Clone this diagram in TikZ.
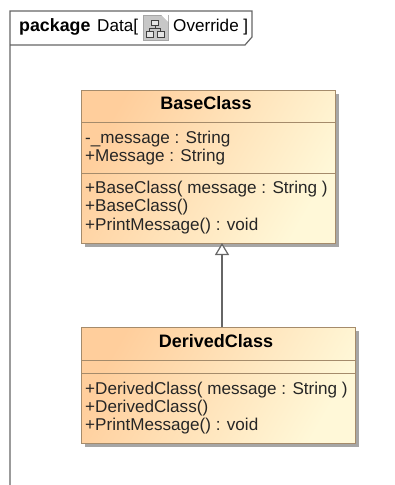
\documentclass[tikz,border=0pt]{standalone}
\usepackage{fontspec}
\setmainfont{Liberation Sans}
\usetikzlibrary{arrows.meta}
\definecolor{boxline}{HTML}{A58B6B}
\definecolor{boxleft}{HTML}{FFCE9C}
\definecolor{boxright}{HTML}{FFF8D8}
\definecolor{frameline}{HTML}{666666}
\tikzset{
  classbox/.style={draw=boxline, line width=1pt, left color=boxleft, right color=boxright, shading angle=60, minimum height=10pt},
  classshadow/.style={fill=black!35, draw=none},
  divider/.style={draw=boxline, line width=1pt},
  member/.style={anchor=north west, inner sep=0pt, font=\fontsize{17.1}{18.4}\selectfont, align=left, text=black!85},
  title/.style={inner sep=0pt, font=\fontsize{18}{20}\selectfont\bfseries},
  framelabel/.style={anchor=base west, inner sep=0pt, font=\fontsize{17.1}{18}\selectfont},
  iconbox/.style={draw=black!75, fill=black!10, minimum width=7pt, minimum height=5.5pt, inner sep=0pt},
}
\begin{document}
\begin{tikzpicture}[x=1pt, y=-1pt]
      \useasboundingbox (0,0) rectangle (395,485);
      % frame
      \draw[frameline, line width=1.2pt] (10,485) -- (10,11) -- (252,11) -- (252,37) -- (245,45) -- (10,45);
      \node[framelabel, font=\fontsize{17.8}{18}\selectfont] (pkgkey) at (19,31){\textbf{package}};
      \node[framelabel] (pkgname) at (97,31){Data[};
      \node[draw=black!35, fill=black!22, minimum width=25pt, minimum height=25pt, inner sep=0pt] (pkgicon) at (155.5,27.5){};
      \fill[white] (pkgicon.north east) -- ++(-7,0) -- ++(7,7) -- cycle;
      \node[framelabel] (pkgdiag) at (173,31){Override ]};
      % icon inside the diagram symbol
      \node[iconbox] (iconroot) at (155,22.5){};
      \node[iconbox] (iconleft) at (149.5,34){};
      \node[iconbox] (iconright) at (160.5,34){};
      \draw[black!75](iconroot) -- (155,28.5) -| (iconleft);
      \draw[black!75](iconroot) -- (155,28.5) -| (iconright);

      % BaseClass
      \fill[classshadow] (85,94) rectangle (338.5,246.5);
      \node[classbox, minimum width=254pt, minimum height=153pt, inner sep=0pt] (baseclass) at (208,166.5){};
      \draw[divider] (81,122) -- (335,122);
      \draw[divider] (81,173) -- (335,173);
      \node[title] (basetitle) at (206,103){BaseClass};
      \node[member] (baseattr) at (85,130.5){-\_message : String\\+Message : String};
      \node[member] (baseops) at (85,181){+BaseClass( message : String )\\+BaseClass()\\+PrintMessage() : void};

      % DerivedClass
      \fill[classshadow] (85,331) rectangle (358.5,446.5);
      \node[classbox, minimum width=274pt, minimum height=116pt, inner sep=0pt] (derivedclass) at (218,385){};
      \draw[divider] (81,360) -- (355,360);
      \draw[divider] (81,373) -- (355,373);
      \node[title] (derivedtitle) at (216,341){DerivedClass};
      \node[member] (derivedops) at (85,381.5){+DerivedClass( message : String )\\+DerivedClass()\\+PrintMessage() : void};

      % generalization
      \coordinate (basehead) at (222,243);
      \coordinate (derivedtail) at (222,327);
      \draw[frameline, line width=1.2pt, -{Triangle[open, fill=white, length=12pt, width=14pt]}](derivedtail) -- (basehead);

    \end{tikzpicture}
\end{document}
